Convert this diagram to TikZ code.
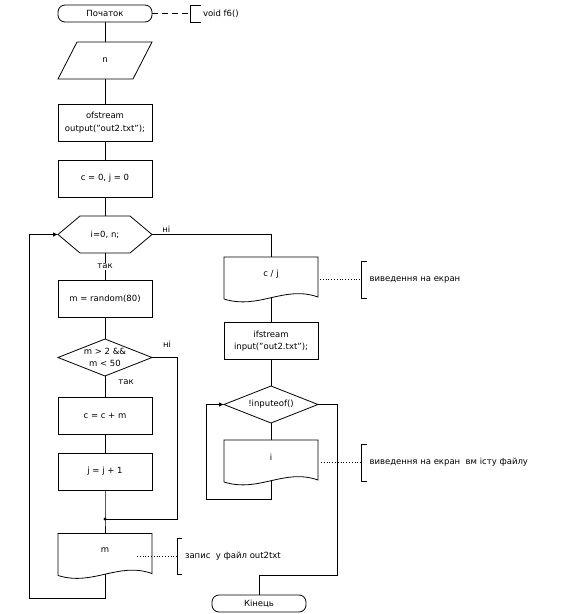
\documentclass[tikz,border=0pt]{standalone}
\usepackage{fontspec}
\setmainfont{DejaVu Sans}
\usetikzlibrary{arrows.meta}

\newcommand\hexout[1]{\draw (#1.west) -- ([xshift=22pt]#1.north west) -- ([xshift=-22pt]#1.north east) -- (#1.east) -- ([xshift=-22pt]#1.south east) -- ([xshift=22pt]#1.south west) -- cycle;}
\newcommand\diaout[1]{\draw (#1.west) -- (#1.north) -- (#1.east) -- (#1.south) -- cycle;}
\newcommand\paraout[1]{\draw ([xshift=19pt]#1.north west) -- (#1.north east) -- ([xshift=-19pt]#1.south east) -- (#1.south west) -- cycle;}
\newcommand\docout[1]{\draw ([yshift=-8pt]#1.south west) -- (#1.north west) -- (#1.north east) -- ([yshift=-6pt]#1.south east)
  .. controls ([xshift=-34pt,yshift=6pt]#1.south east) and ([xshift=35pt,yshift=-19pt]#1.south west) .. ([yshift=-8pt]#1.south west);
  \coordinate (#1w) at ([yshift=-6pt]#1.south);}
\newcommand\brackout[1]{\draw ([xshift=5pt]#1.north west) -- (#1.north west) -- (#1.south west) -- ([xshift=5pt]#1.south west);}

\begin{document}
\begin{tikzpicture}[x=1pt,y=-1pt,line width=0.8pt,
  font=\fontsize{8.5}{12.5}\selectfont,
  box/.style={draw,minimum width=94pt,minimum height=37pt,inner sep=0pt,align=center},
  shell/.style={minimum width=94pt,minimum height=37pt,inner sep=0pt,outer sep=0pt,align=center},
  docbox/.style={minimum width=94pt,minimum height=34pt,inner sep=0pt,outer sep=0pt},
  term/.style={draw,rounded corners=7pt,minimum width=94pt,minimum height=17pt,inner sep=0pt},
  note/.style={anchor=west,inner xsep=8pt,inner ysep=0pt,outer sep=0pt},
  lbl/.style={inner sep=1pt},
  arr/.style={-{Latex[length=5pt,width=4.5pt]}}]
\useasboundingbox (0,0) rectangle (568,614);

\node[term] (start) at (105,13.5) {Початок};
\node[shell] (n) at (105,60.5) {n};
\node[box] (ofs) at (105,122.5) {ofstream\\output("out2.txt");};
\node[box] (init) at (105,178.5) {c = 0, j = 0};
\node[shell] (loop) at (105,234.5) {i=0, n;};
\node[box] (rnd) at (105,298.5) {m = random(80)};
\node[shell] (cond) at (105,357.5) {m > 2 \&\&\\m < 50};
\node[box] (add) at (105,415.5) {c = c + m};
\node[box] (inc) at (105,471.5) {j = j + 1};
\coordinate (jn) at (105,519);
\node[docbox] (docm) at (105,550.5) {m};

\node[docbox] (cj) at (271,274) {c / j};
\node[box] (ifs) at (271,341) {ifstream\\input("out2.txt");};
\node[shell] (eof) at (271,404.5) {!inputeof()};
\node[docbox] (doci) at (271,457) {i};
\node[term] (end) at (259,603.5) {Кінець};

\paraout{n}
\hexout{loop}
\diaout{cond}
\diaout{eof}
\docout{docm}
\docout{cj}
\docout{doci}

\node[note,inner xsep=13pt,minimum height=17pt] (cmf) at (190,13.5) {void f6()};
\node[note,minimum height=37pt] (cmcj) at (361.5,279.5) {виведення на екран};
\node[note,minimum height=36pt] (cmm) at (177,556.5) {запис\ \ у файл out2txt};
\node[note,minimum height=37pt] (cmi) at (361.5,462.5) {виведення на екран\ \ вм істу файлу};
\draw ([xshift=11pt]cmf.north west) -- (cmf.north west) -- (cmf.south west) -- ([xshift=11pt]cmf.south west);
\brackout{cmcj}
\brackout{cmm}
\brackout{cmi}
\draw[dashed,dash pattern=on 6pt off 4pt] (start.east) -- (cmf.west);
\draw[dotted] ([xshift=2pt]cmcj.west -| cj.east) -- (cmcj.west);
\coordinate (mdot) at (137,556.5);
\draw[dotted] (mdot) -- (cmm.west);
\draw[dotted] ([xshift=3pt]cmi.west -| doci.east) -- (cmi.west);

\draw (start) -- (n);
\draw (n) -- (ofs);
\draw (ofs) -- (init);
\draw (init) -- (loop);
\draw (loop) -- (rnd) node[lbl,pos=0.5,fill=white] (yes1) {так};
\draw (loop.east) -| (cj.north) node[lbl,pos=0.06,above=1pt] (no1) {ні};
\draw (rnd) -- (cond);
\draw (cond) -- (add) node[lbl,pos=0.3,right=12pt] (yes2) {так};
\draw (cond.east) -- ++(25,0) node[lbl,above=9pt,xshift=-10pt] (no2) {ні} |- (jn);
\draw (add) -- (inc);
\draw (inc) -- (jn) -- (docm.north);
\fill (jn) circle (1.6pt);
\draw[arr] (docmw) |- (29,598) |- (loop.west);

\draw (cjw) -- (ifs);
\draw (ifs) -- (eof);
\draw (eof) -- (doci);
\draw[arr] (dociw) |- (206,499) |- (eof.west);
\draw (eof.east) -| (337,575) -| (end.north);
\end{tikzpicture}
\end{document}
